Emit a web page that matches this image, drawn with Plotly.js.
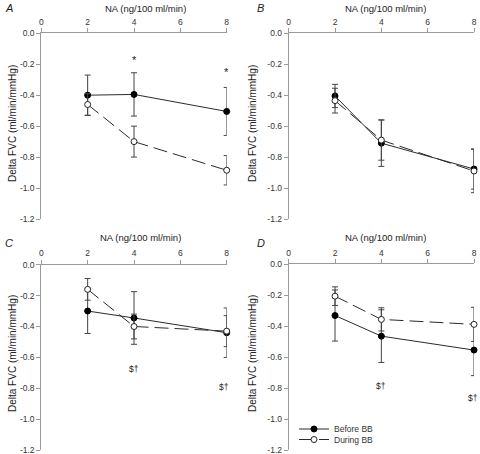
<!DOCTYPE html>
<html>
<head>
<meta charset="utf-8">
<script src="https://cdn.plot.ly/plotly-3.0.1.min.js"></script>
<style>html,body{margin:0;padding:0;background:#fff}#chart{width:480px;height:454px}</style>
</head>
<body>
<div id="chart"></div>
<script>
// ---- data ----
const doses = [2, 4, 8];
const panels = ["A", "B", "C", "D"];
const seriesNames = ["Before BB", "During BB"];

const beforeA = [-0.40, -0.395, -0.505];
const beforeAErr = [0.13, 0.14, 0.155];
const duringA = [-0.46, -0.70, -0.885];
const duringAErr = [0.07, 0.10, 0.095];

const beforeB = [-0.405, -0.71, -0.877];
const beforeBErr = [0.075, 0.15, 0.13];
const duringB = [-0.435, -0.69, -0.89];
const duringBErr = [0.08, 0.13, 0.14];

const beforeC = [-0.30, -0.345, -0.44];
const beforeCErr = [0.145, 0.17, 0.16];
const duringC = [-0.16, -0.40, -0.43];
const duringCErr = [0.07, 0.08, 0.10];

const beforeD = [-0.33, -0.463, -0.553];
const beforeDErr = [0.165, 0.17, 0.165];
const duringD = [-0.205, -0.355, -0.387];
const duringDErr = [0.06, 0.075, 0.11];

const xTickVals = [0, 2, 4, 6, 8];
const xTickText = ["0", "2", "4", "6", "8"];
const yTickVals = [0, -0.2, -0.4, -0.6, -0.8, -1.0, -1.2];
const yTickText = ["0.0", "-0.2", "-0.4", "-0.6", "-0.8", "-1.0", "-1.2"];

const xTitle = "NA (ng/100 ml/min)";
const yTitle = "Delta FVC (ml/min/mmHg)";

// significance marks: [panel, x, y, text]
const markPanel = ["A", "A", "C", "C", "D", "D"];
const markX = [4, 8, 4, 7.9, 4, 7.95];
const markY = [-0.175, -0.247, -0.675, -0.79, -0.783, -0.86];
const markText = ["*", "*", "$†", "$†", "$†", "$†"];

// ---- layout geometry (pixels) ----
const W = 480, H = 454;
const px = v => v / W, py = v => 1 - v / H;
const geom = {
  A: {x0: 41.3, x1: 226.7, y0: 33.3, y1: 219},
  B: {x0: 288.7, x1: 474, y0: 33.3, y1: 219},
  C: {x0: 41.3, x1: 226.7, y0: 264.6, y1: 450.3},
  D: {x0: 288.7, x1: 474, y0: 264.4, y1: 450.3}
};
const letterPos = {A: [9, 8], B: [260, 8], C: [9, 243], D: [261, 243]};
const xTitlePos = {A: [145, 8.5], B: [385, 8.5], C: [140, 238], D: [385, 238]};
const yTitlePos = {A: [12, 124], B: [252, 124], C: [12, 354], D: [252, 354]};

const before = {A: beforeA, B: beforeB, C: beforeC, D: beforeD};
const beforeErr = {A: beforeAErr, B: beforeBErr, C: beforeCErr, D: beforeDErr};
const during = {A: duringA, B: duringB, C: duringC, D: duringD};
const duringErr = {A: duringAErr, B: duringBErr, C: duringCErr, D: duringDErr};

const FONT = "Arial, 'Liberation Sans', sans-serif";
const lineCol = "#2b2b2b";
const axisCol = "#9a9a9a";
const textCol = "#333333";

const traces = [];
const legendCommon = {
  xanchor: "left", yanchor: "middle", bgcolor: "rgba(0,0,0,0)",
  font: {size: 8.5, color: textCol}, itemwidth: 30, borderwidth: 0
};
const layout = {
  width: W, height: H,
  margin: {l: 0, r: 0, t: 0, b: 0, pad: 0, autoexpand: false},
  paper_bgcolor: "#fff", plot_bgcolor: "rgba(0,0,0,0)",
  font: {family: FONT, color: textCol, size: 8},
  showlegend: true,
  legend: Object.assign({x: px(294), y: py(429)}, legendCommon),
  legend2: Object.assign({x: px(294), y: py(439.5)}, legendCommon),
  annotations: []
};

panels.forEach((p, i) => {
  const n = i + 1;
  const xa = n === 1 ? "x" : "x" + n;
  const ya = n === 1 ? "y" : "y" + n;
  const g = geom[p];
  layout[n === 1 ? "xaxis" : "xaxis" + n] = {
    domain: [px(g.x0), px(g.x1)], anchor: ya, side: "top",
    range: [0, 8], tickvals: xTickVals, ticktext: xTickText,
    showline: true, linecolor: axisCol, linewidth: 1,
    ticks: "outside", ticklen: 4, tickcolor: axisCol,
    showgrid: false, zeroline: false, automargin: false,
    ticklabeloverflow: "allow",
    tickfont: {size: 8.5, color: textCol}
  };
  layout[n === 1 ? "yaxis" : "yaxis" + n] = {
    domain: [py(g.y1), py(g.y0)], anchor: xa,
    range: [-1.2, 0], tickvals: yTickVals, ticktext: yTickText,
    showline: true, linecolor: axisCol, linewidth: 1,
    ticks: "outside", ticklen: 4, tickcolor: axisCol,
    showgrid: false, zeroline: false, automargin: false,
    ticklabeloverflow: "allow",
    tickfont: {size: 8.5, color: textCol}
  };
  const showLeg = p === "D";
  traces.push({
    x: doses, y: before[p], xaxis: xa, yaxis: ya, type: "scatter",
    mode: "lines+markers", name: seriesNames[0], showlegend: showLeg, legend: "legend",
    cliponaxis: false,
    line: {color: lineCol, width: 1},
    marker: {symbol: "circle", size: 6, color: "#000", line: {color: "#000", width: 1}},
    error_y: {type: "data", array: beforeErr[p], visible: true, color: "#444", thickness: 1, width: 3}
  });
  traces.push({
    x: doses, y: during[p], xaxis: xa, yaxis: ya, type: "scatter",
    mode: "lines+markers", name: seriesNames[1], showlegend: showLeg, legend: "legend2",
    cliponaxis: false,
    line: {color: lineCol, width: 1, dash: "14px,6px"},
    marker: {symbol: "circle", size: 6, color: "#fff", line: {color: "#222", width: 1}},
    error_y: {type: "data", array: duringErr[p], visible: true, color: "#444", thickness: 1, width: 3}
  });
  // panel letter
  layout.annotations.push({
    text: "<i>" + p + "</i>", xref: "paper", yref: "paper",
    x: px(letterPos[p][0]), y: py(letterPos[p][1]), xanchor: "center", yanchor: "middle",
    showarrow: false, font: {size: 11, color: "#222"}
  });
  // x title
  layout.annotations.push({
    text: xTitle, xref: "paper", yref: "paper",
    x: px(xTitlePos[p][0]), y: py(xTitlePos[p][1]), xanchor: "center", yanchor: "middle",
    showarrow: false, font: {size: 9.5, color: "#222"}
  });
  // y title
  layout.annotations.push({
    text: yTitle, xref: "paper", yref: "paper", textangle: -90,
    x: px(yTitlePos[p][0]), y: py(yTitlePos[p][1]), xanchor: "center", yanchor: "middle",
    showarrow: false, font: {size: 10, color: "#222"}
  });
});

markPanel.forEach((p, k) => {
  const n = panels.indexOf(p) + 1;
  layout.annotations.push({
    text: markText[k], xref: n === 1 ? "x" : "x" + n, yref: n === 1 ? "y" : "y" + n,
    x: markX[k], y: markY[k], xanchor: "center", yanchor: "middle",
    showarrow: false, font: {size: markText[k] === "*" ? 11 : 8.5, color: "#222"}
  });
});

Plotly.newPlot("chart", traces, layout, {displayModeBar: false, staticPlot: true});
</script>
</body>
</html>
